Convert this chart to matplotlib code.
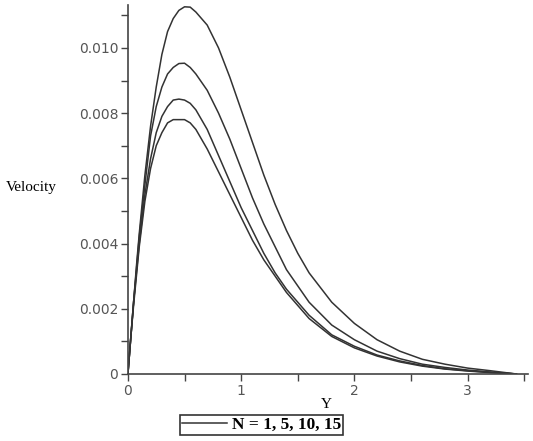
import matplotlib.pyplot as plt
from matplotlib.ticker import MultipleLocator, FuncFormatter

# Y positions (shared by all curves)
y_pos = [0, 0.025, 0.05, 0.075, 0.1, 0.15, 0.2, 0.25, 0.3, 0.35, 0.4, 0.45,
         0.5, 0.55, 0.6, 0.7, 0.8, 0.9, 1.0, 1.1, 1.2, 1.3, 1.4, 1.5, 1.6,
         1.8, 2.0, 2.2, 2.4, 2.6, 2.8, 3.0, 3.2, 3.43]

# velocity profiles for N = 1, 5, 10, 15
vel_n1 = [0, 0.0011, 0.0022, 0.0033, 0.0043, 0.0061, 0.0076, 0.0088, 0.0098,
          0.0105, 0.0109, 0.01115, 0.01126, 0.01125, 0.0111, 0.0107, 0.0100,
          0.0091, 0.0081, 0.0071, 0.0061, 0.0052, 0.0044, 0.0037, 0.0031,
          0.0022, 0.00155, 0.00105, 0.0007, 0.00045, 0.0003, 0.00018, 0.0001, 0]
vel_n5 = [0, 0.0011, 0.0022, 0.0032, 0.0042, 0.0058, 0.0073, 0.0082, 0.0088,
          0.0092, 0.0094, 0.00952, 0.00953, 0.0094, 0.0092, 0.0087, 0.0080,
          0.0072, 0.0063, 0.0054, 0.0046, 0.0039, 0.0032, 0.0027, 0.0022,
          0.0015, 0.00105, 0.0007, 0.00047, 0.0003, 0.0002, 0.00012, 0.00006, 0]
vel_n10 = [0, 0.0011, 0.0022, 0.0031, 0.0040, 0.0055, 0.0066, 0.0074, 0.0079,
           0.0082, 0.0084, 0.00843, 0.0084, 0.0083, 0.0081, 0.0075, 0.0067,
           0.0059, 0.0051, 0.0044, 0.0037, 0.0031, 0.0026, 0.0022, 0.0018,
           0.0012, 0.00085, 0.00058, 0.0004, 0.00026, 0.00016, 0.0001, 0.00005, 0]
vel_n15 = [0, 0.0011, 0.0021, 0.0030, 0.0039, 0.0053, 0.0063, 0.0070, 0.0074,
           0.0077, 0.0078, 0.0078, 0.0078, 0.0077, 0.0075, 0.0069, 0.0062,
           0.0055, 0.0048, 0.0041, 0.0035, 0.0030, 0.0025, 0.0021, 0.0017,
           0.00115, 0.0008, 0.00055, 0.00037, 0.00024, 0.00015, 0.00009, 0.00004, 0]

fig = plt.figure(figsize=(5.33, 4.41), dpi=100)
ax = fig.add_axes([0.240, 0.152, 0.750, 0.837])

for i, v in enumerate([vel_n1, vel_n5, vel_n10, vel_n15]):
    ax.plot(y_pos, v, color='#333333', linewidth=1.1,
            label='N = 1, 5, 10, 15' if i == 0 else None)

ax.set_xlim(0, 3.53)
ax.set_ylim(0, 0.01132)

for s in ['top', 'right']:
    ax.spines[s].set_visible(False)
for s in ['left', 'bottom']:
    ax.spines[s].set_color('#444444')
    ax.spines[s].set_linewidth(1.2)

ax.xaxis.set_major_locator(MultipleLocator(1))
ax.xaxis.set_minor_locator(MultipleLocator(0.5))
ax.yaxis.set_major_locator(MultipleLocator(0.002))
ax.yaxis.set_minor_locator(MultipleLocator(0.001))
ax.yaxis.set_major_formatter(FuncFormatter(lambda v, p: '0' if v == 0 else '%.3f' % v))
ax.xaxis.set_major_formatter(FuncFormatter(lambda v, p: '%d' % v))
ax.tick_params(which='both', direction='out', color='#444444', length=5, width=1)
ax.tick_params(labelsize=10, labelcolor='#555555', pad=2)

fig.text(0.01, 0.574, 'Velocity', fontsize=11, family='Liberation Serif',
         va='center', ha='left')
fig.text(0.613, 0.083, 'Y', fontsize=11, family='Liberation Serif',
         va='center', ha='center')

leg = ax.legend(loc='center', bbox_to_anchor=(0.334, -0.139), frameon=True,
                fancybox=False, handlelength=2.6, borderpad=0.1,
                handletextpad=0.3,
                prop={'family': 'Liberation Serif', 'weight': 'bold', 'size': 12.5})
leg.get_frame().set_edgecolor('black')
leg.get_frame().set_linewidth(1.2)

fig.savefig('out.png', dpi=100)
